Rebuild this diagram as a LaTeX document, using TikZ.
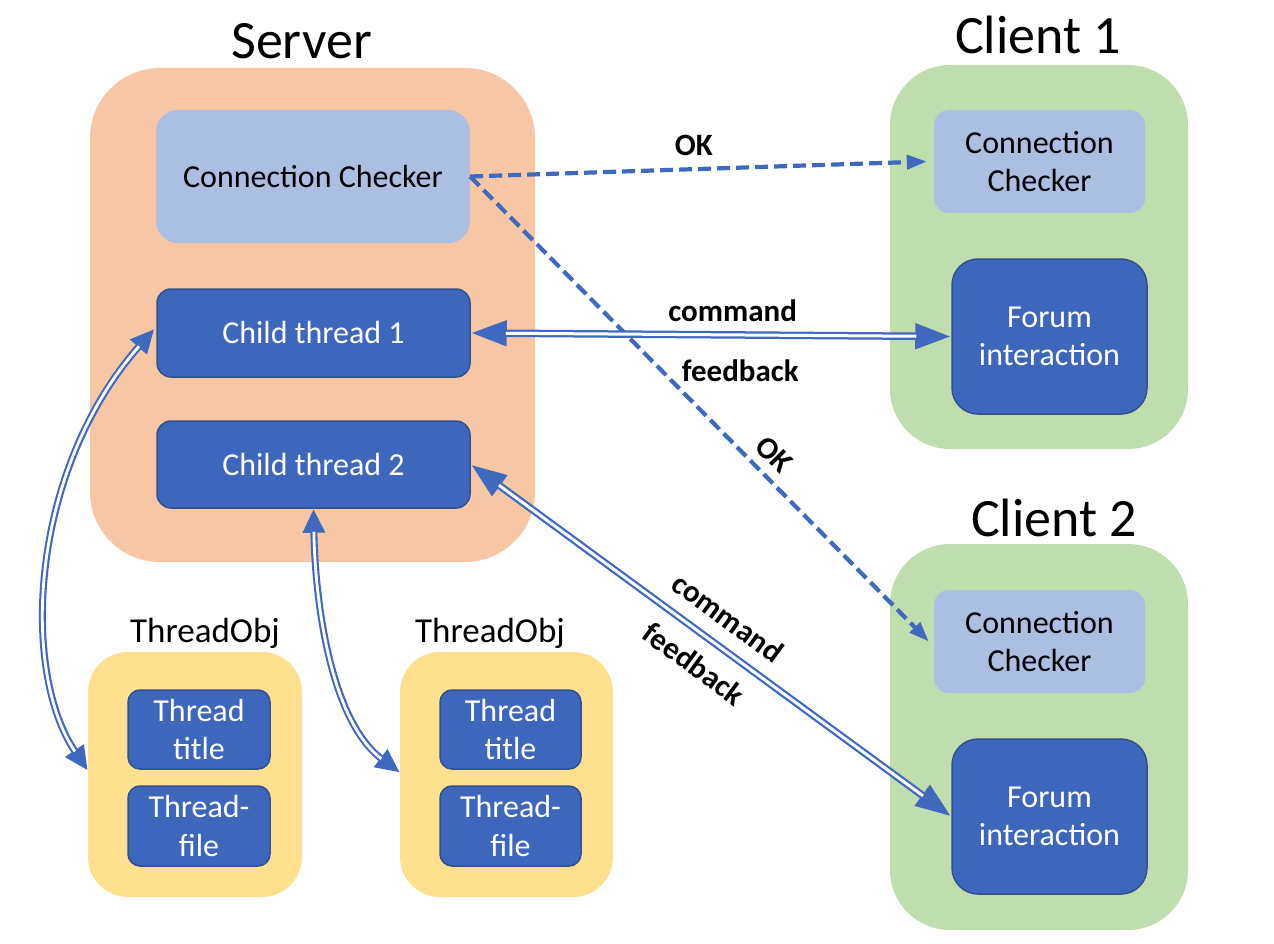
\documentclass[tikz,border=0pt]{standalone}
\usepackage{fontspec}
\setmainfont{Carlito}
\usetikzlibrary{arrows.meta}
\definecolor{srvorange}{HTML}{F7C6A5}
\definecolor{cligreen}{HTML}{C0DDAE}
\definecolor{objyellow}{HTML}{FEE08F}
\definecolor{lightblue}{HTML}{ABBFE2}
\definecolor{darkblue}{HTML}{3C67BD}
\definecolor{borderblue}{HTML}{2F528F}
\definecolor{arrowblue}{HTML}{3F69BE}
\tikzset{
  bodyfont/.style={font=\fontsize{32}{38.4}\selectfont},
  group/.style={rectangle, inner sep=0pt, draw=none},
  lightbox/.style={rectangle, inner sep=0pt, align=center, fill=lightblue, draw=none, text=black, bodyfont},
  darkbox/.style={rectangle, inner sep=0pt, align=center, fill=darkblue, draw=borderblue, line width=1.5pt, text=white, bodyfont},
  titletext/.style={inner sep=0pt, anchor=base, font=\fontsize{54}{60}\selectfont},
  objtitle/.style={inner sep=0pt, anchor=base, font=\fontsize{35}{40}\selectfont},
  lbl/.style={inner sep=0pt, font=\fontsize{31}{36}\selectfont\bfseries, text=black},
  dashedarrow/.style={draw=arrowblue, line width=4.2pt, dash pattern=on 13pt off 6pt, -{Triangle[length=20pt,width=14pt]}},
  dblbig/.style={draw=arrowblue, line width=7.5pt,
    {Triangle[length=36pt,width=24pt]}-{Triangle[length=36pt,width=24pt]},
    postaction={draw=white, line width=3pt, -, shorten <=35pt, shorten >=35pt}},
  dblsmall/.style={draw=arrowblue, line width=7pt,
    {Triangle[length=24pt,width=21pt]}-{Triangle[length=24pt,width=21pt]},
    postaction={draw=white, line width=2.8pt, -, shorten <=23pt, shorten >=23pt}},
}
\begin{document}
\begin{tikzpicture}[x=1pt,y=-1pt]
\useasboundingbox (0,0) rectangle (1274,944);
% groups
\node[group, fill=srvorange, rounded corners=70pt, minimum width=445pt, minimum height=494pt] (server) at (312.5,315) {};
\node[group, fill=cligreen, rounded corners=60pt, minimum width=298pt, minimum height=384pt] (client1) at (1039,257) {};
\node[group, fill=cligreen, rounded corners=60pt, minimum width=298pt, minimum height=386pt] (client2) at (1039,737) {};
\node[group, fill=objyellow, rounded corners=40pt, minimum width=214pt, minimum height=245pt] (obj1) at (195,774.5) {};
\node[group, fill=objyellow, rounded corners=40pt, minimum width=213pt, minimum height=245pt] (obj2) at (506.5,774.5) {};
% titles
\node[titletext] (tserver) at (301.5,59) {Server};
\node[titletext] (tclient1) at (1038,54) {Client 1};
\node[titletext] (tclient2) at (1054,536) {Client 2};
\node[objtitle] (tobj1) at (205,642) {ThreadObj};
\node[objtitle] (tobj2) at (490,642) {ThreadObj};
% server parts
\node[lightbox, rounded corners=22pt, minimum width=314pt, minimum height=133pt] (cc0) at (313,176.5) {Connection Checker};
\node[darkbox, rounded corners=14pt, minimum width=313pt, minimum height=88pt] (ct1) at (313.5,333) {Child thread 1};
\node[darkbox, rounded corners=14pt, minimum width=313pt, minimum height=87pt] (ct2) at (313.5,464.5) {Child thread 2};
% client parts
\node[lightbox, rounded corners=15pt, minimum width=211pt, minimum height=103pt] (cc1) at (1039.5,161.5) {Connection\\Checker};
\node[darkbox, rounded corners=26pt, minimum width=195pt, minimum height=155pt] (fi1) at (1049.5,336.5) {Forum\\interaction};
\node[lightbox, rounded corners=15pt, minimum width=211pt, minimum height=103pt] (cc2) at (1039.5,641.5) {Connection\\Checker};
\node[darkbox, rounded corners=26pt, minimum width=195pt, minimum height=155pt] (fi2) at (1049.5,816.5) {Forum\\interaction};
% thread objects
\node[darkbox, rounded corners=12pt, minimum width=142pt, minimum height=79pt] (tt1) at (199,729.5) {Thread\\title};
\node[darkbox, rounded corners=12pt, minimum width=142pt, minimum height=80pt] (tf1) at (199,826) {Thread-\\file};
\node[darkbox, rounded corners=12pt, minimum width=141pt, minimum height=79pt] (tt2) at (510.5,729.5) {Thread\\title};
\node[darkbox, rounded corners=12pt, minimum width=141pt, minimum height=80pt] (tf2) at (510.5,826) {Thread-\\file};
% connectors
\draw[dashedarrow] (cc0.east) -- node[lbl, pos=.49, above=11pt] {OK} ([xshift=-7pt]cc1.west);
\draw[dashedarrow] (cc0.east) -- node[lbl, pos=.63, sloped, above=9pt] {OK} ([xshift=-5pt]cc2.west);
\draw[dblbig] (ct1.east) -- node[lbl, pos=.545, above=9pt] {command} node[lbl, pos=.561, below=21pt] {feedback} (fi1.west);
\draw[dblbig] (ct2.east) -- node[lbl, pos=.5, sloped, above=14pt] {command} node[lbl, pos=.5, sloped, below=14pt] {feedback} (fi2.west);
\draw[dblsmall] ([xshift=-2pt,yshift=4pt]ct1.west) .. controls (30,470) and (20,670) .. ([yshift=4pt]obj1.west);
\draw[dblsmall] (ct2.south) .. controls (315,600) and (330,720) .. ([yshift=2pt]obj2.west);
\end{tikzpicture}
\end{document}
